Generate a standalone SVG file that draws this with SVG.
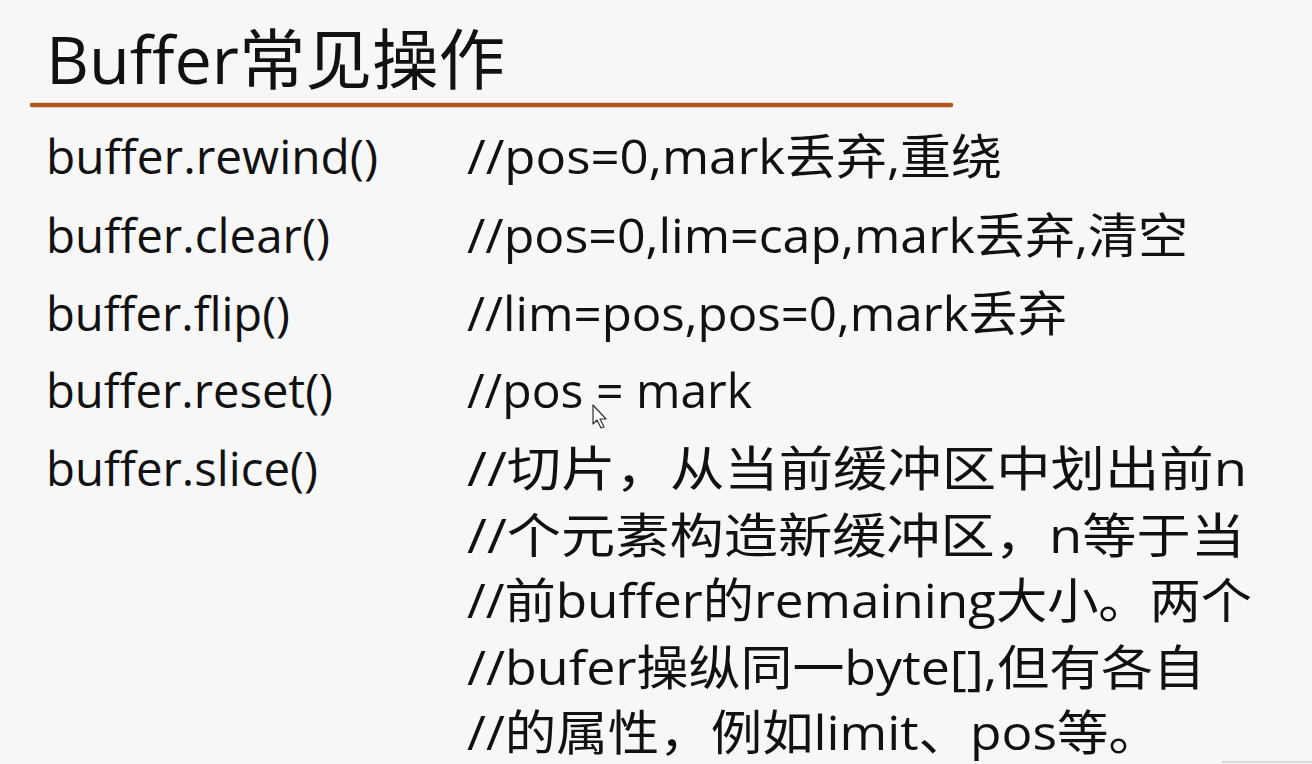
<svg xmlns="http://www.w3.org/2000/svg" width="1312" height="764" viewBox="0 0 1312 764">
<style>
text{font-family:"Open Sans","Noto Sans CJK SC",sans-serif;fill:#111;}
.t{font-size:66px;}
.b{font-size:48px;}
</style>
<rect x="0" y="0" width="1312" height="764" fill="#f7f7f7"/>
<g id="title">
<text class="t" x="46" y="84" textLength="459" lengthAdjust="spacingAndGlyphs">Buffer常见操作</text>
<line x1="32" y1="105" x2="951" y2="105" stroke="#b0581c" stroke-width="4.5" stroke-linecap="round"/>
</g>
<g id="methods">
<text class="b" x="46" y="174" textLength="332" lengthAdjust="spacingAndGlyphs">buffer.rewind()</text>
<text class="b" x="46" y="253" textLength="284" lengthAdjust="spacingAndGlyphs">buffer.clear()</text>
<text class="b" x="46" y="331" textLength="244" lengthAdjust="spacingAndGlyphs">buffer.flip()</text>
<text class="b" x="46" y="408" textLength="287" lengthAdjust="spacingAndGlyphs">buffer.reset()</text>
<text class="b" x="46" y="486" textLength="272" lengthAdjust="spacingAndGlyphs">buffer.slice()</text>
</g>
<g id="comments">
<text class="b" x="467" y="174" textLength="535" lengthAdjust="spacingAndGlyphs">//pos=0,mark丢弃,重绕</text>
<text class="b" x="467" y="253" textLength="721" lengthAdjust="spacingAndGlyphs">//pos=0,lim=cap,mark丢弃,清空</text>
<text class="b" x="467" y="331" textLength="600" lengthAdjust="spacingAndGlyphs">//lim=pos,pos=0,mark丢弃</text>
<text class="b" x="467" y="408" textLength="285" lengthAdjust="spacingAndGlyphs">//pos = mark</text>
<text class="b" x="467" y="486" textLength="780" lengthAdjust="spacingAndGlyphs">//切片，从当前缓冲区中划出前n</text>
<text class="b" x="467" y="553" textLength="778" lengthAdjust="spacingAndGlyphs">//个元素构造新缓冲区，n等于当</text>
<text class="b" x="467" y="618" textLength="785" lengthAdjust="spacingAndGlyphs">//前buffer的remaining大小。两个</text>
<text class="b" x="467" y="685" textLength="738" lengthAdjust="spacingAndGlyphs">//bufer操纵同一byte[],但有各自</text>
<text class="b" x="467" y="750" textLength="693" lengthAdjust="spacingAndGlyphs">//的属性，例如limit、pos等。</text>
</g>
<g id="cursor">
<path d="M593,405 L593,424 L597,420 L601,428 L604,427 L600,419 L606,419 Z" fill="#fff" stroke="#333" stroke-width="1.2" stroke-linejoin="round"/>
</g>
<line x1="1222" y1="762" x2="1312" y2="762" stroke="#ccc" stroke-width="1.5"/>
</svg>
